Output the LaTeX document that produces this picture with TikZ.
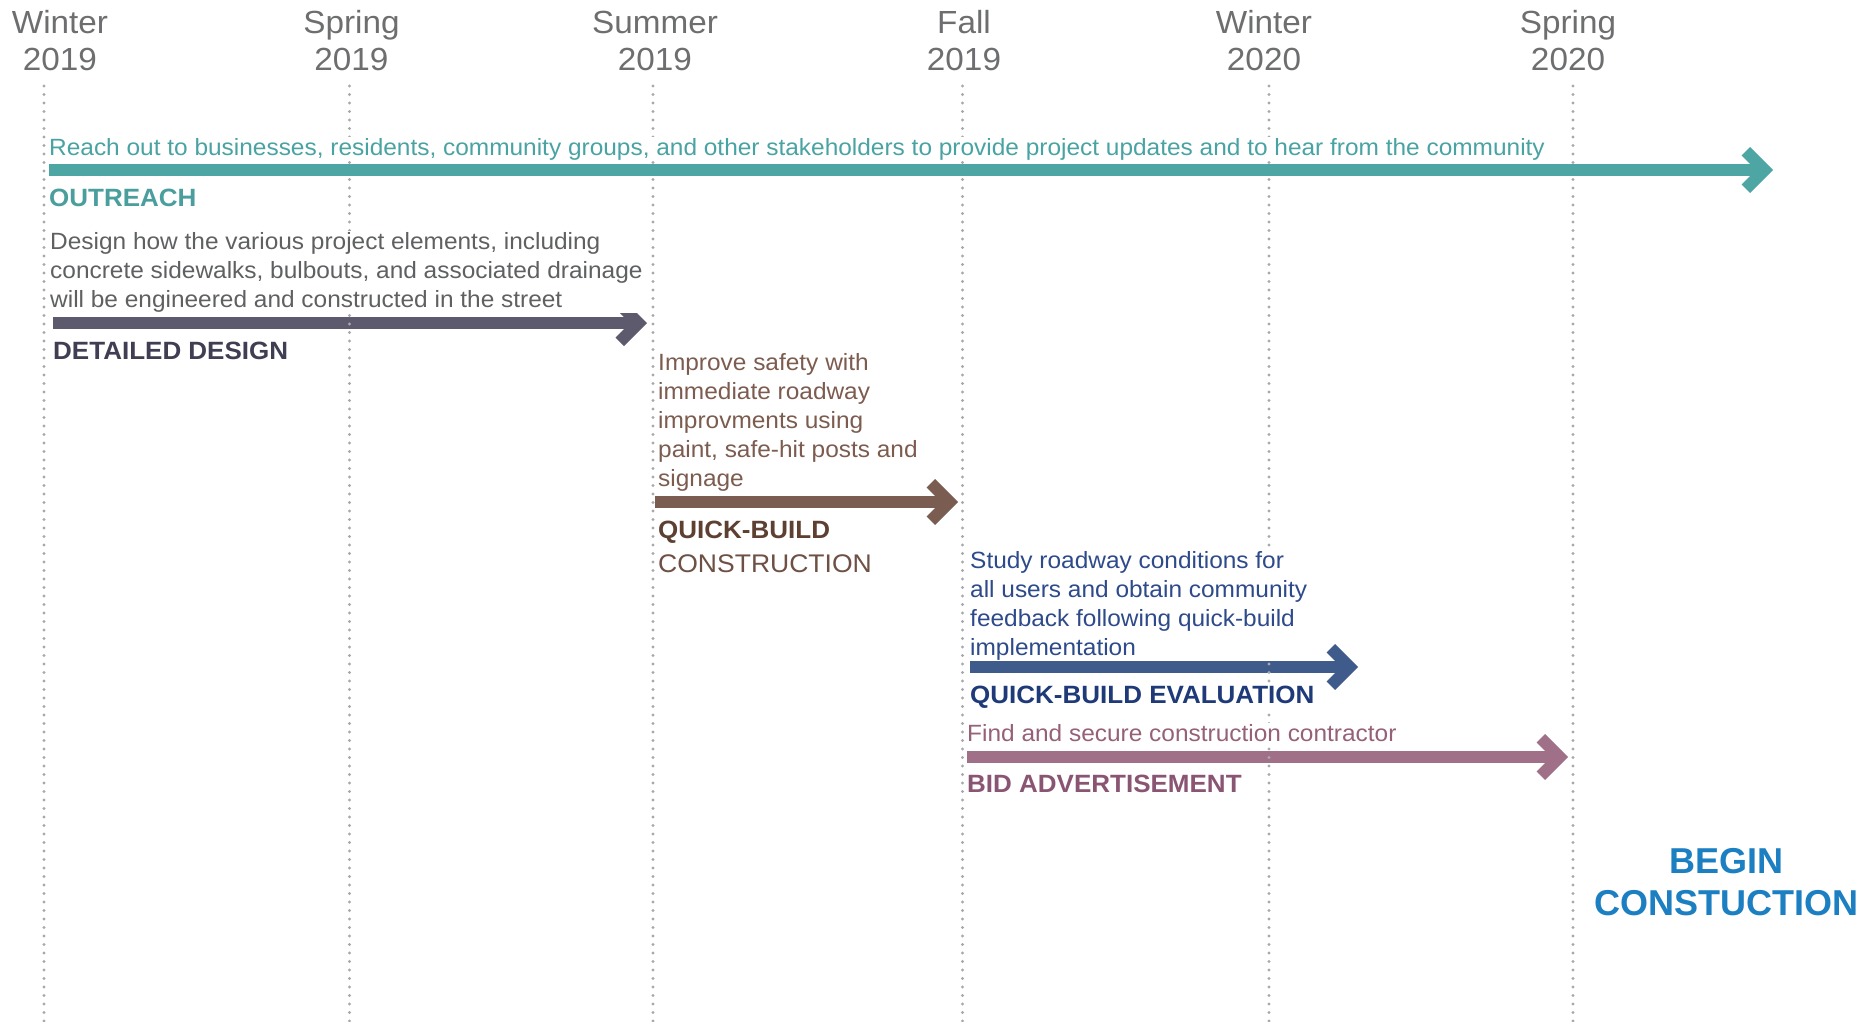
\documentclass[tikz,border=0pt]{standalone}
\usepackage{fontspec}
\setmainfont{Liberation Sans}[FakeStretch=1.04]
\newfontfamily\widefont{Liberation Sans}
\usetikzlibrary{calc}
\definecolor{dotc}{HTML}{A7A9AC}
\definecolor{hdrc}{HTML}{6D6E70}
\definecolor{tealbar}{HTML}{4DA6A4}
\definecolor{tealtxt}{HTML}{4AA3A3}
\definecolor{teallab}{HTML}{4A9E9D}
\definecolor{grytxt}{HTML}{5F6062}
\definecolor{desbar}{HTML}{5C5A6C}
\definecolor{deslab}{HTML}{403E52}
\definecolor{qbtxt}{HTML}{7D5C50}
\definecolor{qbbar}{HTML}{7A5D50}
\definecolor{qblab}{HTML}{5E4033}
\definecolor{qblab2}{HTML}{6E5044}
\definecolor{evtxt}{HTML}{2D4A8A}
\definecolor{evbar}{HTML}{3F5B8C}
\definecolor{evlab}{HTML}{1F3A78}
\definecolor{bidtxt}{HTML}{956078}
\definecolor{bidbar}{HTML}{A07088}
\definecolor{bidlab}{HTML}{8A5573}
\definecolor{begc}{HTML}{1B7FC1}
\begin{document}
\begin{tikzpicture}[x=1pt,y=-1pt,
  grid/.style={draw=dotc, line width=3.2pt, line cap=round, dash pattern=on 0pt off 8.5pt},
  hdr/.style={font=\fontsize{32}{37}\selectfont, text=hdrc, inner sep=0pt, anchor=base},
  desc/.style={font=\fontsize{23.5}{29}\selectfont, fill=white, inner xsep=0pt, inner ysep=1pt, anchor=base west, align=left},
  lab/.style={font=\fontsize{25}{32}\selectfont\bfseries, fill=white, inner xsep=0pt, inner ysep=1pt, anchor=base west},
  bar/.style={line width=12pt},
  pics/chev/.style={code={\fill[#1] (0,0) -- (-23,-23) -- (-31.5,-14.5) -- (-17,0) -- (-31.5,14.5) -- (-23,23) -- cycle;}}
]
\useasboundingbox (0,0) rectangle (1875,1021);
% coordinates of the phase arrows
\coordinate (oS) at (49,170);   \coordinate (oE) at (1773,170);
\coordinate (dS) at (53,323);   \coordinate (dE) at (647,323);
\coordinate (qS) at (655,502);  \coordinate (qE) at (958,502);
\coordinate (eS) at (970,667);  \coordinate (eE) at (1358,667);
\coordinate (bS) at (967,757);  \coordinate (bE) at (1568,757);
% bars lying under the grid
\draw[bar, desbar] (dS) -- ($(dE)+(-14,0)$);
\pic at (dE) {chev=desbar};
\draw[bar, qbbar] (qS) -- ($(qE)+(-14,0)$);
\pic at (qE) {chev=qbbar};
\draw[bar, evbar] (eS) -- ($(eE)+(-14,0)$);
\pic at (eE) {chev=evbar};
\draw[bar, bidbar] (bS) -- ($(bE)+(-14,0)$);
\pic at (bE) {chev=bidbar};
% grid lines
\foreach \i/\x in {1/44,2/349.5,3/653,4/962.5,5/1269,6/1573}{
  \coordinate (g\i t) at (\x,86);
  \coordinate (g\i b) at (\x,1021);
  \draw[grid] (g\i t) -- (g\i b);
}
% outreach bar above the grid
\draw[bar, tealbar] (oS) -- ($(oE)+(-14,0)$);
\pic at (oE) {chev=tealbar};
% headers
\node[hdr] (h1a) at (60,33) {Winter};
\node[hdr] (h1b) at (60,70) {2019};
\node[hdr] (h2a) at (351.5,33) {Spring};
\node[hdr] (h2b) at (351.5,70) {2019};
\node[hdr] (h3a) at (655,33) {Summer};
\node[hdr] (h3b) at (655,70) {2019};
\node[hdr] (h4a) at (964,33) {Fall};
\node[hdr] (h4b) at (964,70) {2019};
\node[hdr] (h5a) at (1264,33) {Winter};
\node[hdr] (h5b) at (1264,70) {2020};
\node[hdr] (h6a) at (1568,33) {Spring};
\node[hdr] (h6b) at (1568,70) {2020};
% outreach
\node[desc, text=tealtxt] (od) at (49,155) {Reach out to businesses, residents, community groups, and other stakeholders to provide project updates and to hear from the community};
\node[lab, text=teallab] (ol) at (49,206) {OUTREACH};
% detailed design
\node[desc, text=grytxt] (dd) at (50,307) {Design how the various project elements, including\\concrete sidewalks, bulbouts, and associated drainage\\will be engineered and constructed in the street};
\node[lab, text=deslab] (dl) at (53,359) {DETAILED DESIGN};
% quick-build construction
\node[desc, text=qbtxt] (qd) at (658,486) {Improve safety with\\immediate roadway\\improvments using\\paint, safe-hit posts and\\signage};
\node[lab, text=qblab] (ql) at (658,538) {QUICK-BUILD};
\node[lab, font=\fontsize{25.5}{32}\selectfont, text=qblab2] (ql2) at (658,572) {CONSTRUCTION};
% quick-build evaluation
\node[desc, text=evtxt] (ed) at (970,655) {Study roadway conditions for\\all users and obtain community\\feedback following quick-build\\implementation};
\node[lab, text=evlab] (el) at (970,703) {QUICK-BUILD EVALUATION};
% bid advertisement
\node[desc, text=bidtxt] (bd) at (967,741) {Find and secure construction contractor};
\node[lab, text=bidlab] (bl) at (967,792) {BID ADVERTISEMENT};
% begin construction
\node[font=\widefont\bfseries\fontsize{36}{42}\selectfont, text=begc, inner sep=0pt, align=center, anchor=base] (bc) at (1726,915) {BEGIN\\CONSTUCTION};
\end{tikzpicture}
\end{document}
